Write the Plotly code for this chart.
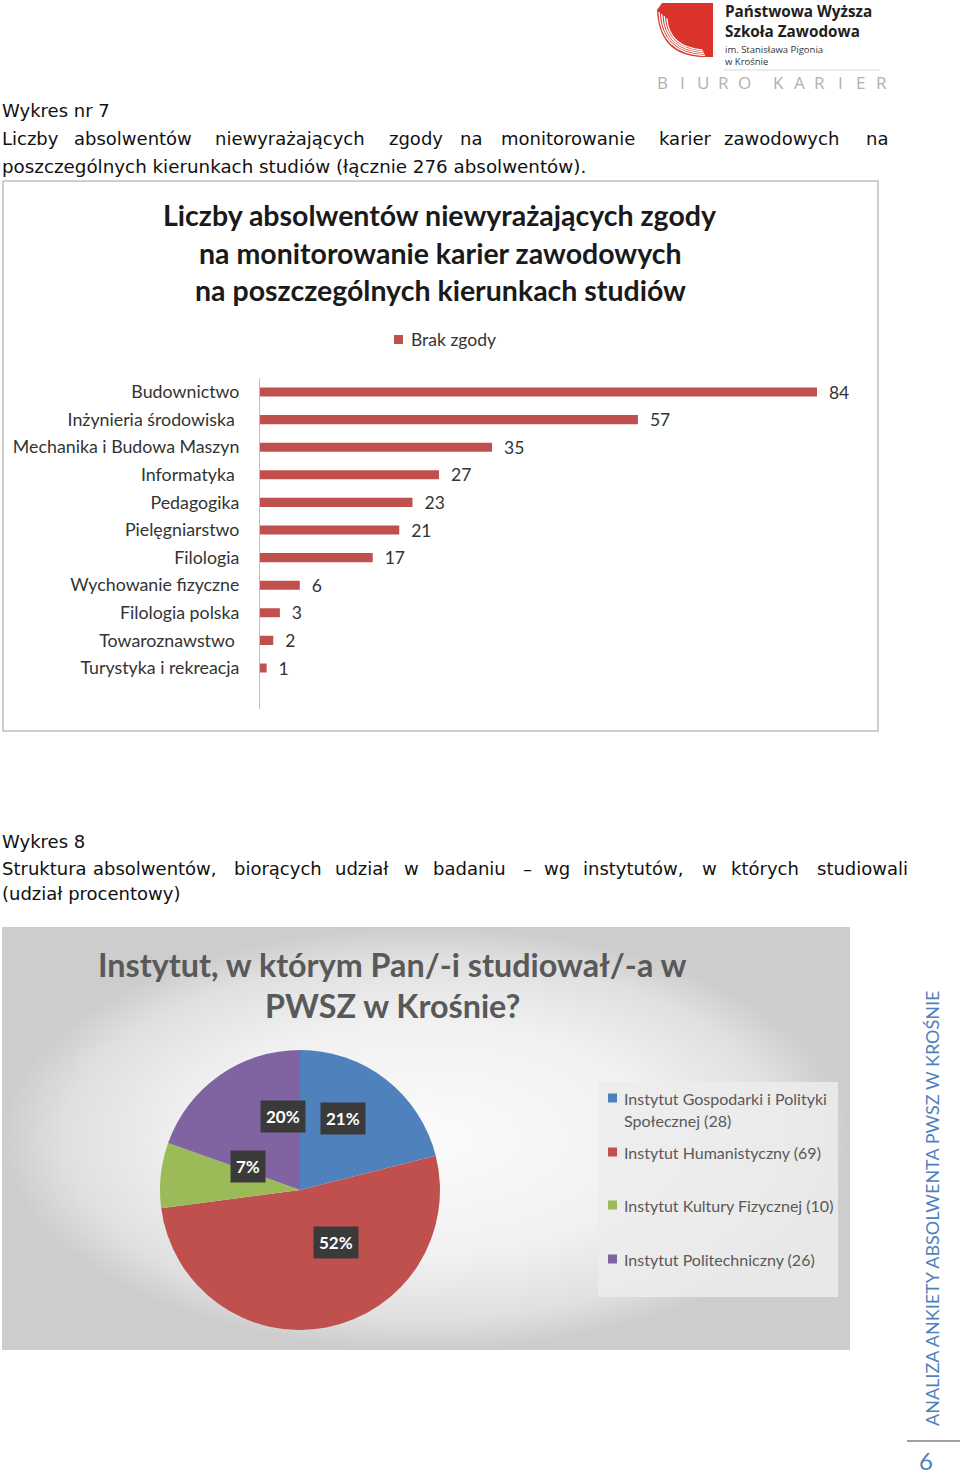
import math
import plotly.graph_objects as go

W, H = 960, 1476

# ---------------- data ----------------
bar_categories = ["Budownictwo", "Inżynieria środowiska\u00a0", "Mechanika i Budowa Maszyn",
                  "Informatyka\u00a0", "Pedagogika", "Pielęgniarstwo", "Filologia",
                  "Wychowanie fizyczne", "Filologia polska", "Towaroznawstwo\u00a0",
                  "Turystyka i rekreacja"]
bar_values = [84, 57, 35, 27, 23, 21, 17, 6, 3, 2, 1]
bar_series_name = "Brak zgody"
bar_title = ["Liczby absolwentów niewyrażających zgody",
             "na monitorowanie karier zawodowych",
             "na poszczególnych kierunkach studiów"]

pie_labels = ["Instytut Gospodarki i Polityki Społecznej", "Instytut Humanistyczny",
              "Instytut Kultury Fizycznej", "Instytut Politechniczny"]
pie_legend_lines = [["Instytut Gospodarki i Polityki", "Społecznej"], ["Instytut Humanistyczny"],
                    ["Instytut Kultury Fizycznej"], ["Instytut Politechniczny"]]
pie_values = [28, 69, 10, 26]
pie_pct_labels = ["21%", "52%", "7%", "20%"]
pie_colors = ["#4F81BD", "#C0504D", "#9BBB59", "#8064A2"]
pie_title = ["Instytut, w którym Pan/-i studiował/-a w", "PWSZ w Krośnie?"]


def X(px):
    return px / W


def Y(py):
    return 1 - py / H


fig = go.Figure()

# ---------------- bar chart ----------------
fig.add_trace(go.Bar(
    y=bar_categories, x=bar_values, orientation="h", name=bar_series_name,
    marker=dict(color="#C0504D", line=dict(width=0)), width=0.33,
    text=bar_values, texttemplate="\u00a0\u00a0%{x}", textposition="outside",
    constraintext="none",
    textfont=dict(family="Lato", size=17.5, color="#333333"),
    outsidetextfont=dict(family="Lato", size=17.5, color="#333333"), cliponaxis=False,
    xaxis="x", yaxis="y", showlegend=False, hoverinfo="skip"))

# ---------------- background gradient for pie panel (full-page pixel axes) ----------------
fig.add_trace(go.Scatter(
    x=[2, 850, 850, 2, 2], y=[927, 927, 1350, 1350, 927], mode="lines",
    fill="toself", line=dict(width=0),
    fillgradient=dict(type="radial",
                      colorscale=[[0, "#fbfbfb"], [0.55, "#f1f1f1"], [0.85, "#e0e0e0"], [1, "#cdcdcd"]]),
    xaxis="x2", yaxis="y2", showlegend=False, hoverinfo="skip"))

# ---------------- pie ----------------
pie_top, pie_bot, pie_left, pie_right = 1050, 1330, 160, 440
fig.add_trace(go.Pie(
    labels=pie_labels, values=pie_values, sort=False, direction="clockwise", rotation=0,
    marker=dict(colors=pie_colors, line=dict(width=0)), textinfo="none",
    domain=dict(x=[X(pie_left), X(pie_right)], y=[Y(pie_bot), Y(pie_top)]),
    showlegend=False, hoverinfo="skip"))

cx, cy, R = (pie_left + pie_right) / 2, (pie_top + pie_bot) / 2, (pie_right - pie_left) / 2
total = sum(pie_values)

annotations = []
shapes = []


def txt(x, y, text, size, color="#000000", family="DejaVu Sans", xanchor="left",
        yanchor="middle", **kw):
    annotations.append(dict(x=X(x), y=Y(y), xref="paper", yref="paper", text=text,
                            showarrow=False, xanchor=xanchor, yanchor=yanchor,
                            font=dict(size=size, color=color, family=family), **kw))


# pie labels in dark boxes computed from slice mid angles
cum = 0
for v, lab in zip(pie_values, pie_pct_labels):
    mid = (cum + v / 2) / total * 2 * math.pi
    cum += v
    lx = cx + 0.5 * R * math.sin(mid)
    ly = cy - 0.5 * R * math.cos(mid)
    annotations.append(dict(x=X(lx), y=Y(ly), xref="paper", yref="paper",
                            text="<b>%s</b>" % lab, showarrow=False,
                            font=dict(size=17, color="white", family="Lato"),
                            bgcolor="#3a3a3a", borderpad=5))

# ---------------- page header / logo ----------------
logo_path = "M %f,%f L %f,%f L %f,%f L %f,%f Q %f,%f %f,%f Z" % (
    X(662), Y(3), X(713), Y(3), X(713), Y(57), X(703), Y(57), X(659), Y(56), X(657), Y(10))
shapes.append(dict(type="path", xref="paper", yref="paper", path=logo_path,
                   fillcolor="#D9332B", line=dict(width=0)))
for k in range(4):
    d = 2.6 * k
    path = "M %f,%f Q %f,%f %f,%f" % (X(659 + d), Y(12 + d * 0.8), X(661 + d), Y(54 - d * 0.9),
                                      X(705 - d * 0.3), Y(55.5 - d * 0.7))
    shapes.append(dict(type="path", xref="paper", yref="paper", path=path,
                       line=dict(color="white", width=1.3)))
txt(724, 0.3, "<b>Państwowa Wyższa<br>Szkoła Zawodowa</b>", 15.3, "#231F20", "Open Sans",
    yanchor="top", align="left", borderpad=0)
txt(724, 55, "im. Stanisława Pigonia<br>w Krośnie", 9.5, "#333333", "Open Sans", align="left",
    borderpad=0)
shapes.append(dict(type="line", xref="paper", yref="paper", x0=X(724), x1=X(880), y0=Y(70), y1=Y(70),
                   line=dict(color="#d8d8d8", width=1)))
letters = "BIURO KARIER"
lx = 662
for ch in letters:
    if ch == " ":
        lx += 14
        continue
    txt(lx, 82, ch, 17, "#b0b0b0", "Open Sans", xanchor="center")
    lx += 20.5

# ---------------- body text ----------------
BODY_FONT = "DejaVu Sans"
BODY_SIZE = 18
BODY_COL = "#111111"
txt(0, 111, "Wykres nr 7", BODY_SIZE, BODY_COL, BODY_FONT)
line1 = [("Liczby", 0), ("absolwentów", 72), ("niewyrażających", 213), ("zgody", 387), ("na", 458),
         ("monitorowanie", 499), ("karier", 657), ("zawodowych", 722), ("na", 864)]
for w, xx in line1:
    txt(xx, 139, w, BODY_SIZE, BODY_COL, BODY_FONT)
txt(0, 166, "poszczególnych kierunkach studiów (łącznie 276 absolwentów).", BODY_SIZE + 0.3, BODY_COL, BODY_FONT)

txt(0, 841, "Wykres 8", BODY_SIZE, BODY_COL, BODY_FONT)
line2 = [("Struktura", 0), ("absolwentów,", 91), ("biorących", 232), ("udział", 333), ("w", 402),
         ("badaniu", 431), ("–", 521), ("wg", 542), ("instytutów,", 581), ("w", 700),
         ("których", 729), ("studiowali", 815)]
for w, xx in line2:
    txt(xx, 869, w, BODY_SIZE, BODY_COL, BODY_FONT)
txt(0, 893, "(udział procentowy)", BODY_SIZE, BODY_COL, BODY_FONT)

# ---------------- bar chart frame, title, legend ----------------
shapes.append(dict(type="rect", xref="paper", yref="paper", x0=X(3), x1=X(878), y0=Y(731), y1=Y(181),
                   line=dict(color="#BFBFBF", width=1.5), fillcolor="rgba(0,0,0,0)"))
for i, t in enumerate(bar_title):
    txt(440, 215 + i * 37.5, "<b>%s</b>" % t, 28.5, "#1a1a1a", "Lato", xanchor="center")
shapes.append(dict(type="rect", xref="paper", yref="paper", x0=X(394), x1=X(403), y0=Y(344), y1=Y(335),
                   fillcolor="#C0504D", line=dict(width=0)))
txt(409, 339, bar_series_name, 17.5, "#333333", "Lato")

# ---------------- pie title & legend ----------------
for i, t in enumerate(pie_title):
    txt(392, 964 + i * 41, "<b>%s</b>" % t, 32.3, "#595959", "Lato", xanchor="center")
shapes.append(dict(type="rect", xref="paper", yref="paper", x0=X(598), x1=X(838), y0=Y(1297), y1=Y(1082),
                   fillcolor="rgba(236,236,236,0.85)", line=dict(width=0)))
leg_y = [1098, 1152, 1205, 1259]
for lines, v, col, yy in zip(pie_legend_lines, pie_values, pie_colors, leg_y):
    shapes.append(dict(type="rect", xref="paper", yref="paper", x0=X(608), x1=X(617),
                       y0=Y(yy + 4.5), y1=Y(yy - 4.5), fillcolor=col, line=dict(width=0)))
    lines = list(lines)
    lines[-1] = "%s (%d)" % (lines[-1], v)
    for k, ln in enumerate(lines):
        txt(622, yy + k * 22, ln, 16, "#595959", "Lato")

# ---------------- side text / page number ----------------
annotations.append(dict(x=X(932), y=Y(1209), xref="paper", yref="paper", xanchor="center",
                        yanchor="middle",
                        text="ANALIZA ANKIETY ABSOLWENTA PWSZ W KROŚNIE", textangle=-90,
                        showarrow=False, font=dict(size=18, color="#4F81BD", family="Lato")))
shapes.append(dict(type="line", xref="paper", yref="paper", x0=X(907), x1=X(960), y0=Y(1441), y1=Y(1441),
                   line=dict(color="#404040", width=1.2)))
txt(926, 1460, "6", 24, "#4F81BD", "Lato", xanchor="center")

# ---------------- layout ----------------
row = 27.6
top = 392 - row / 2
bottom = top + 12 * row
x0_bar, scale = 260, (817 - 260) / 84
fig.update_layout(
    width=W, height=H, margin=dict(l=0, r=0, t=0, b=0),
    paper_bgcolor="white", plot_bgcolor="rgba(0,0,0,0)",
    xaxis=dict(domain=[X(x0_bar), X(x0_bar + 100 * scale)], range=[0, 100], visible=False, fixedrange=True),
    yaxis=dict(domain=[Y(bottom), Y(top)], type="category", range=[11.5, -0.5],
               showline=True, linecolor="#BFBFBF", linewidth=1, ticks="", showgrid=False,
               ticklabelstandoff=16, tickfont=dict(family="Lato", size=17.8, color="#333333")),
    xaxis2=dict(domain=[0, 1], range=[0, W], visible=False, anchor="y2", fixedrange=True),
    yaxis2=dict(domain=[0, 1], range=[H, 0], visible=False, anchor="x2", fixedrange=True),
    shapes=shapes, annotations=annotations, bargap=0.6,
)

fig.write_html("out.html", config={"displayModeBar": False},
               post_script="document.body.style.margin='0';document.body.style.overflow='hidden';")
